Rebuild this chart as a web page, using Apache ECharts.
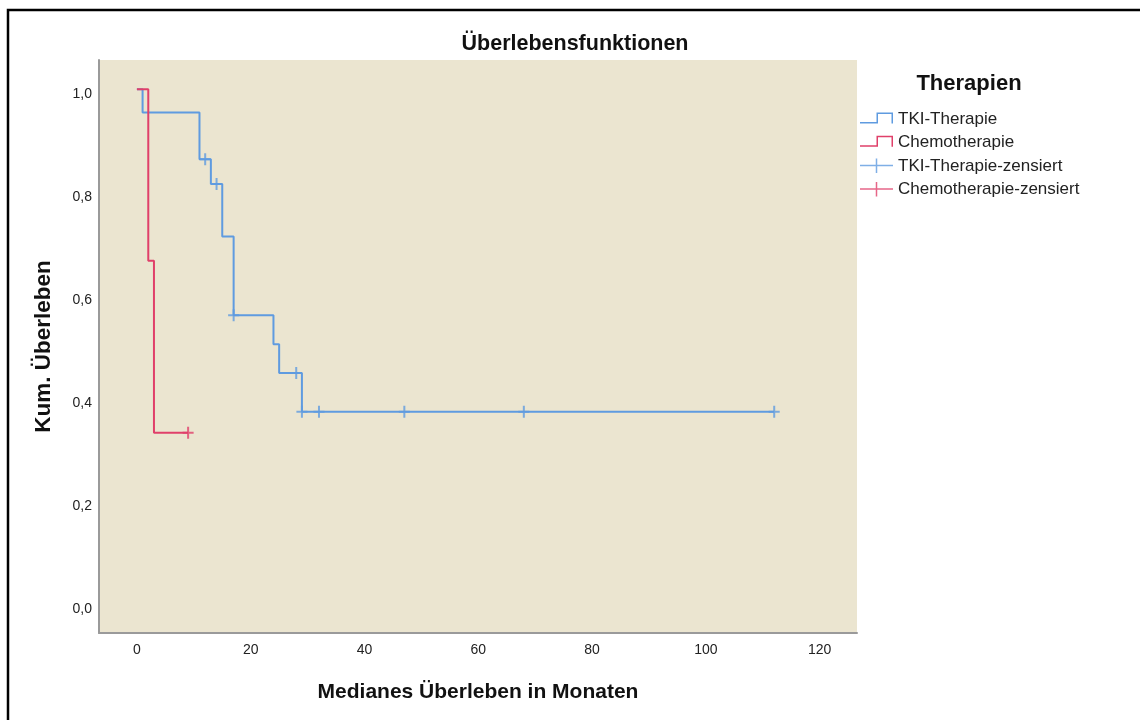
<!DOCTYPE html>
<html>
<head>
<meta charset="utf-8">
<script src="https://cdn.jsdelivr.net/npm/echarts@6/dist/echarts.min.js"></script>
<style>
  html, body { margin: 0; padding: 0; background: #ffffff; }
  #chart { width: 1140px; height: 720px; }
</style>
</head>
<body>
<div id="chart"></div>
<script>
// Kaplan-Meier steps: time in months, cumulative survival
const tkiTime = [0, 1, 11, 13, 15, 17, 24, 25, 29, 112];
const tkiSurv = [1.0, 0.955, 0.864, 0.816, 0.714, 0.561, 0.505, 0.449, 0.374, 0.374];
const chemoTime = [0, 2, 3, 9];
const chemoSurv = [1.0, 0.667, 0.333, 0.333];

// censored observations
const tkiCensTime = [12, 14, 17, 28, 29, 32, 47, 68, 112];
const tkiCensSurv = [0.864, 0.816, 0.561, 0.449, 0.374, 0.374, 0.374, 0.374, 0.374];
const chemoCensTime = [9];
const chemoCensSurv = [0.333];

const xTicks = [0, 20, 40, 60, 80, 100, 120];
const yTicks = [0, 0.2, 0.4, 0.6, 0.8, 1.0];

const seriesNames = ['TKI-Therapie', 'Chemotherapie', 'TKI-Therapie-zensiert', 'Chemotherapie-zensiert'];

const BLUE = '#5f9be0';
const RED = '#e0406a';
const FONT = '"Liberation Sans", Arial, sans-serif';

const pairs = (xs, ys) => xs.map((x, i) => [x, ys[i]]);

// legend glyphs: a step for the curves, a cross for censoring.
// The step sits in the upper part of a 33x20 box (two empty anchor
// triangles at the top and bottom fix the box height).
const STEP_ICON = 'path://M0,0 L0.01,0 L0,0 Z M0,20 L0.01,20 L0,20 Z ' +
  'M0,12.5 L16.5,12.5 L16.5,3 L33,3 L33,14 L31.5,14 L31.5,4.5 L18,4.5 L18,14 L0,14 Z';
const CROSS_ICON = 'path://M0,0 L0.01,0 L0,0 Z M0,20 L0.01,20 L0,20 Z ' +
  'M0,8.75 L33,8.75 L33,10.25 L0,10.25 Z M15.75,2.5 L17.25,2.5 L17.25,17 L15.75,17 Z';
const CENS_SYMBOL = 'path://M0,5 L11,5 L11,7 L0,7 Z M4.5,0 L6.5,0 L6.5,12 L4.5,12 Z';

const chart = echarts.init(document.getElementById('chart'), null, { renderer: 'canvas' });

chart.setOption({
  animation: false,
  backgroundColor: '#ffffff',
  textStyle: { fontFamily: FONT },
  title: [
    {
      text: 'Überlebensfunktionen',
      left: 570, top: 28, textAlign: 'center',
      textStyle: { fontFamily: FONT, fontSize: 21.5, fontWeight: 'bold', color: '#111' }
    },
    {
      text: 'Therapien',
      left: 964, top: 68, textAlign: 'center',
      textStyle: { fontFamily: FONT, fontSize: 22, fontWeight: 'bold', color: '#111' }
    }
  ],
  legend: {
    orient: 'vertical',
    left: 860, top: 109.5,
    padding: 0,
    itemWidth: 33, itemHeight: 20,
    itemGap: 3.3,
    selectedMode: false,
    textStyle: { fontFamily: FONT, fontSize: 17, color: '#222', lineHeight: 18 },
    data: [
      { name: seriesNames[0], icon: STEP_ICON, itemStyle: { color: BLUE, borderWidth: 0 } },
      { name: seriesNames[1], icon: STEP_ICON, itemStyle: { color: RED, borderWidth: 0 } },
      { name: seriesNames[2], icon: CROSS_ICON, itemStyle: { color: BLUE, borderWidth: 0 } },
      { name: seriesNames[3], icon: CROSS_ICON, itemStyle: { color: RED, borderWidth: 0 } }
    ]
  },
  grid: {
    left: 99, top: 60, right: 283, bottom: 87,
    show: true, backgroundColor: '#ebe5d0', borderWidth: 0
  },
  xAxis: {
    type: 'value',
    min: -6.66, max: 126.55,
    name: 'Medianes Überleben in Monaten',
    nameLocation: 'middle',
    nameGap: 49,
    nameTextStyle: { fontFamily: FONT, fontSize: 21, fontWeight: 'bold', color: '#111' },
    axisLine: { show: true, onZero: false, lineStyle: { color: '#9a9a9a', width: 2 } },
    axisTick: { show: false },
    splitLine: { show: false },
    axisLabel: {
      customValues: xTicks,
      margin: 10,
      fontFamily: FONT, fontSize: 14, color: '#222'
    }
  },
  yAxis: {
    type: 'value',
    min: -0.0559, max: 1.0569,
    name: 'Kum. Überleben',
    nameLocation: 'middle',
    nameGap: 44,
    nameTextStyle: { fontFamily: FONT, fontSize: 22.5, fontWeight: 'bold', color: '#111' },
    axisLine: { show: true, onZero: false, lineStyle: { color: '#9a9a9a', width: 2 } },
    axisTick: { show: false },
    splitLine: { show: false },
    axisLabel: {
      customValues: yTicks,
      margin: 7,
      fontFamily: FONT, fontSize: 14, color: '#222',
      formatter: v => '{v|' + v.toFixed(1).replace('.', ',') + '}',
      rich: {
        v: { fontFamily: FONT, fontSize: 14, color: '#222', padding: [9, 0, 0, 0] }
      }
    }
  },
  series: [
    {
      name: seriesNames[0], type: 'line', step: 'end',
      data: pairs(tkiTime, tkiSurv),
      showSymbol: false, symbol: 'none',
      color: BLUE,
      lineStyle: { color: BLUE, width: 2 },
      emphasis: { disabled: true }, silent: true, z: 2
    },
    {
      name: seriesNames[2], type: 'scatter',
      data: pairs(tkiCensTime, tkiCensSurv),
      symbol: CENS_SYMBOL, symbolSize: [11, 12],
      color: BLUE,
      itemStyle: { color: BLUE },
      emphasis: { disabled: true }, silent: true, z: 3
    },
    {
      name: seriesNames[1], type: 'line', step: 'end',
      data: pairs(chemoTime, chemoSurv),
      showSymbol: false, symbol: 'none',
      color: RED,
      lineStyle: { color: RED, width: 2 },
      emphasis: { disabled: true }, silent: true, z: 4
    },
    {
      name: seriesNames[3], type: 'scatter',
      data: pairs(chemoCensTime, chemoCensSurv),
      symbol: CENS_SYMBOL, symbolSize: [11, 12],
      color: RED,
      itemStyle: { color: RED },
      emphasis: { disabled: true }, silent: true, z: 5
    }
  ],
  graphic: [
    {
      type: 'rect', silent: true, z: 100,
      shape: { x: 8, y: 10, width: 1200, height: 800 },
      style: { fill: 'none', stroke: '#000', lineWidth: 2.5 }
    }
  ]
});
</script>
</body>
</html>
